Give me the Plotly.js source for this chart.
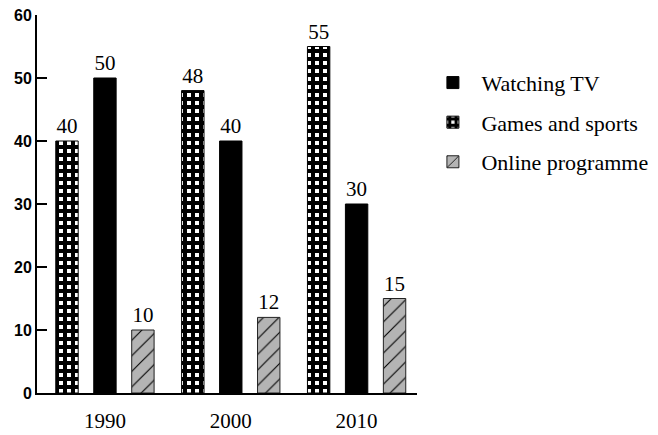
<!DOCTYPE html>
<html>
<head>
<meta charset="utf-8">
<script src="https://cdn.plot.ly/plotly-3.0.1.min.js"></script>
<style>html,body{margin:0;padding:0;background:#fff;}#chart{width:658px;height:435px;}</style>
</head>
<body>
<div id="chart"></div>
<script>
const years = ['1990', '2000', '2010'];
const gamesSports = [40, 48, 55];
const watchingTV = [50, 40, 30];
const onlineProgramme = [10, 12, 15];
const yTicks = [0, 10, 20, 30, 40, 50, 60];

const serif = 'Liberation Serif, Times New Roman, serif';
const labelFont = {family: serif, size: 21, color: '#000'};

const traces = [
  {
    type: 'bar', name: 'Games and sports', x: years, y: gamesSports,
    text: gamesSports.map(String), textposition: 'outside', textfont: labelFont,
    constraintext: 'none', cliponaxis: false, legendrank: 2, legendgroup: 'g',
    marker: {color: '#ffffff', line: {color: '#000', width: 1},
      pattern: {shape: '+', fgcolor: '#000', bgcolor: '#fff', size: 8, solidity: 0.75}}
  },
  {
    type: 'bar', name: 'Watching TV', x: years, y: watchingTV,
    text: watchingTV.map(String), textposition: 'outside', textfont: labelFont,
    constraintext: 'none', cliponaxis: false, legendrank: 1, legendgroup: 't',
    marker: {color: '#000000', line: {color: '#000', width: 1}}
  },
  {
    type: 'bar', name: 'Online programme', x: years, y: onlineProgramme,
    text: onlineProgramme.map(String), textposition: 'outside', textfont: labelFont,
    constraintext: 'none', cliponaxis: false, legendrank: 3, legendgroup: 'o',
    marker: {color: '#b4b4b4', line: {color: '#222', width: 1},
      pattern: {shape: '/', fgcolor: '#000', bgcolor: '#b4b4b4', size: 11, solidity: 0.1}}
  }
];

const layout = {
  width: 658, height: 435,
  margin: {l: 37, r: 241, t: 15, b: 42, autoexpand: false},
  paper_bgcolor: '#fff', plot_bgcolor: '#fff',
  barmode: 'group', bargap: 0.095, bargroupgap: 0.41,
  showlegend: true,
  legend: {xref: 'container', yref: 'container', x: 0.645, y: 0.858,
    xanchor: 'left', yanchor: 'top',
    font: {family: serif, size: 22, color: '#000'},
    tracegroupgap: 8, itemwidth: 47, bgcolor: 'rgba(0,0,0,0)'},
  xaxis: {type: 'category', categoryorder: 'array', categoryarray: years,
    range: [-0.54, 2.48], showline: true, linecolor: '#000', linewidth: 2,
    ticks: '', showgrid: false, zeroline: false, ticklabelstandoff: 8,
    tickfont: {family: serif, size: 21, color: '#000'}},
  yaxis: {range: [0, 60], tickvals: yTicks, ticktext: yTicks.map(String),
    showline: true, linecolor: '#000', linewidth: 2,
    ticks: 'inside', ticklen: 10, tickwidth: 2, tickcolor: '#000',
    showgrid: false, zeroline: false,
    tickfont: {family: 'Liberation Sans, Arial, sans-serif', size: 16, color: '#000', weight: 'bold'}}
};

Plotly.newPlot('chart', traces, layout, {displayModeBar: false, staticPlot: true});
</script>
</body>
</html>
